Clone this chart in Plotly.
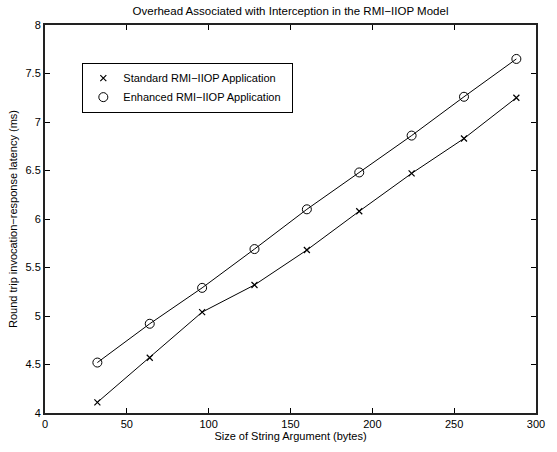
import plotly.graph_objects as go

sizes = [32, 64, 96, 128, 160, 192, 224, 256, 288]
standard = [4.11, 4.57, 5.04, 5.32, 5.68, 6.08, 6.47, 6.83, 7.25]
enhanced = [4.52, 4.92, 5.29, 5.69, 6.10, 6.48, 6.86, 7.26, 7.65]

x_ticks = [0, 50, 100, 150, 200, 250, 300]
y_ticks = [4, 4.5, 5, 5.5, 6, 6.5, 7, 7.5, 8]
y_tick_text = ["4", "4.5", "5", "5.5", "6", "6.5", "7", "7.5", "8"]

FONT = "Liberation Sans, Arial, sans-serif"

fig = go.Figure()

# Connecting lines (kept out of the legend)
for ys in (standard, enhanced):
    fig.add_trace(go.Scatter(x=sizes, y=ys, mode="lines",
                             line=dict(color="black", width=1),
                             showlegend=False, hoverinfo="skip"))

fig.add_trace(go.Scatter(x=sizes, y=standard, mode="markers",
                         name="Standard RMI\u2212IIOP Application  ",
                         marker=dict(symbol="x-thin-open", size=6, color="black",
                                     line=dict(color="black", width=1.2))))
fig.add_trace(go.Scatter(x=sizes, y=enhanced, mode="markers",
                         name="Enhanced RMI\u2212IIOP Application  ",
                         marker=dict(symbol="circle-open", size=9, color="black",
                                     line=dict(color="black", width=1))))

axis_common = dict(showline=True, linecolor="#222222", linewidth=2, mirror="ticks",
                   ticks="inside", ticklen=5, tickcolor="black", tickwidth=1,
                   showgrid=False, zeroline=False,
                   tickfont=dict(family=FONT, size=11, color="black"))

fig.update_layout(
    width=557, height=452,
    margin=dict(l=45, r=13, t=25, b=35),
    paper_bgcolor="white", plot_bgcolor="white",
    font=dict(family=FONT, size=11, color="black"),
    title=dict(text="Overhead Associated with Interception in the RMI\u2212IIOP Model",
               x=0.5, xref="paper", xanchor="center", y=0.985, yanchor="top",
               font=dict(family=FONT, size=11.5, color="black")),
    xaxis=dict(range=[0, 300], tickvals=x_ticks,
               title=dict(text="Size of String Argument (bytes)", standoff=2,
                          font=dict(family=FONT, size=11)),
               **axis_common),
    yaxis=dict(range=[4, 8], tickvals=y_ticks, ticktext=y_tick_text,
               title=dict(text="Round trip invocation\u2212response latency (ms)", standoff=6,
                          font=dict(family=FONT, size=11)),
               **axis_common),
    legend=dict(x=0.076, y=0.903, xanchor="left", yanchor="top",
                bordercolor="black", borderwidth=1, bgcolor="white",
                font=dict(family=FONT, size=11), itemwidth=30,
                tracegroupgap=0),
)

fig.write_html("out.html")
